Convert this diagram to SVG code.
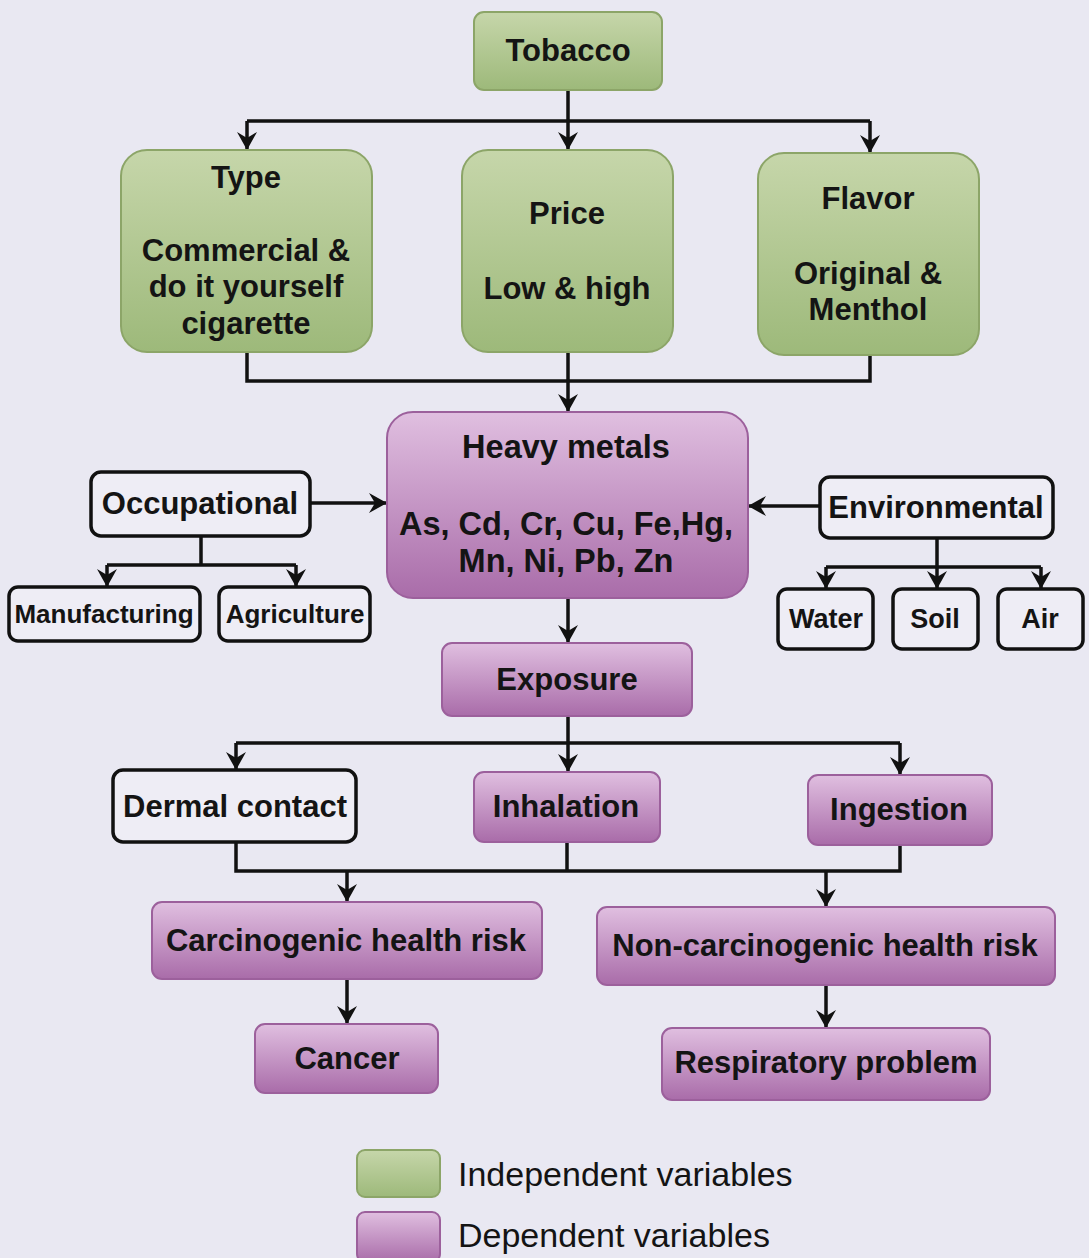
<svg xmlns="http://www.w3.org/2000/svg" width="1089" height="1258" viewBox="0 0 1089 1258">
<defs>
<linearGradient id="gGreen" x1="0" y1="0" x2="0" y2="1">
<stop offset="0" stop-color="#c6d6aa"/>
<stop offset="1" stop-color="#9db97a"/>
</linearGradient>
<linearGradient id="gPurple" x1="0" y1="0" x2="0" y2="1">
<stop offset="0" stop-color="#e0bfe0"/>
<stop offset="1" stop-color="#a96ca9"/>
</linearGradient>
<marker id="arr" viewBox="0 0 18 20" refX="18" refY="10" markerWidth="18" markerHeight="20" markerUnits="userSpaceOnUse" orient="auto">
<path d="M0,0 L18,10 L0,20 L6,10 z" fill="#111"/>
</marker>
</defs>
<style>
.green{fill:url(#gGreen);stroke:#8ca568;stroke-width:2}
.purple{fill:url(#gPurple);stroke:#9c609c;stroke-width:2}
.plain{fill:#eeedf5;stroke:#111;stroke-width:3.5}
.t{font-family:"Liberation Sans",Arial,sans-serif;font-weight:bold;fill:#141414;text-anchor:middle}
.s31{font-size:31px}
.s32{font-size:32.5px}
.s26{font-size:26px}
.s27{font-size:27px}
.leg{font-family:"Liberation Sans",Arial,sans-serif;font-size:34px;fill:#141414}
.c{fill:none;stroke:#111;stroke-width:3.5}
.ca{fill:none;stroke:#111;stroke-width:3.5;marker-end:url(#arr)}
</style>
<rect width="1089" height="1258" fill="#e9e8f2"/>

<g id="connectors">
<path class="c" d="M568,90 V121 M247,121 H870"/>
<path class="ca" d="M247,121 V150"/>
<path class="ca" d="M568,121 V150"/>
<path class="ca" d="M870,121 V153"/>
<path class="c" d="M247,352 V381 H870 V355"/>
<path class="ca" d="M568,352 V412"/>
<path class="ca" d="M310,503 H387"/>
<path class="ca" d="M820,506 H748"/>
<path class="c" d="M201,536 V565 M107,565 H296"/>
<path class="ca" d="M107,565 V587"/>
<path class="ca" d="M296,565 V587"/>
<path class="c" d="M937,538 V567 M826,567 H1041"/>
<path class="ca" d="M826,567 V589"/>
<path class="ca" d="M937,567 V589"/>
<path class="ca" d="M1041,567 V589"/>
<path class="ca" d="M568,598 V643"/>
<path class="c" d="M568,716 V743 M236,743 H900"/>
<path class="ca" d="M236,743 V770"/>
<path class="ca" d="M568,743 V772"/>
<path class="ca" d="M900,743 V775"/>
<path class="c" d="M236,842 V871 H900 V845 M567,842 V871"/>
<path class="ca" d="M347,871 V902"/>
<path class="ca" d="M826,871 V907"/>
<path class="ca" d="M347,979 V1024"/>
<path class="ca" d="M826,985 V1028"/>
</g>

<g id="tobacco">
<rect class="green" x="474" y="12" width="188" height="78" rx="10"/>
<text class="t s31" x="568" y="61">Tobacco</text>
</g>
<g id="type">
<rect class="green" x="121" y="150" width="251" height="202" rx="26"/>
<text class="t s31" x="246" y="188">Type</text>
<text class="t s31" x="246" y="261">Commercial &amp;</text>
<text class="t s31" x="246" y="297">do it yourself</text>
<text class="t s31" x="246" y="334">cigarette</text>
</g>
<g id="price">
<rect class="green" x="462" y="150" width="211" height="202" rx="26"/>
<text class="t s31" x="567" y="224">Price</text>
<text class="t s31" x="567" y="299">Low &amp; high</text>
</g>
<g id="flavor">
<rect class="green" x="758" y="153" width="221" height="202" rx="26"/>
<text class="t s31" x="868" y="209">Flavor</text>
<text class="t s31" x="868" y="284">Original &amp;</text>
<text class="t s31" x="868" y="320">Menthol</text>
</g>
<g id="heavy-metals">
<rect class="purple" x="387" y="412" width="361" height="186" rx="26"/>
<text class="t s32" x="566" y="458">Heavy metals</text>
<text class="t s32" x="566" y="535">As, Cd, Cr, Cu, Fe,Hg,</text>
<text class="t s32" x="566" y="572">Mn, Ni, Pb, Zn</text>
</g>
<g id="occupational">
<rect class="plain" x="91" y="472" width="219" height="64" rx="10"/>
<text class="t s31" x="200" y="514">Occupational</text>
</g>
<g id="manufacturing">
<rect class="plain" x="9" y="587" width="191" height="54" rx="9"/>
<text class="t s26" x="104" y="623">Manufacturing</text>
</g>
<g id="agriculture">
<rect class="plain" x="219" y="587" width="151" height="54" rx="9"/>
<text class="t s26" x="295" y="623">Agriculture</text>
</g>
<g id="environmental">
<rect class="plain" x="820" y="477" width="233" height="61" rx="10"/>
<text class="t s31" x="936" y="518">Environmental</text>
</g>
<g id="water">
<rect class="plain" x="778" y="589" width="95" height="60" rx="9"/>
<text class="t s27" x="826" y="628">Water</text>
</g>
<g id="soil">
<rect class="plain" x="893" y="589" width="85" height="60" rx="9"/>
<text class="t s27" x="935" y="628">Soil</text>
</g>
<g id="air">
<rect class="plain" x="998" y="589" width="85" height="60" rx="9"/>
<text class="t s27" x="1040" y="628">Air</text>
</g>
<g id="exposure">
<rect class="purple" x="442" y="643" width="250" height="73" rx="10"/>
<text class="t s31" x="567" y="690">Exposure</text>
</g>
<g id="dermal-contact">
<rect class="plain" x="113" y="770" width="243" height="72" rx="10"/>
<text class="t s31" x="235" y="817">Dermal contact</text>
</g>
<g id="inhalation">
<rect class="purple" x="474" y="772" width="186" height="70" rx="10"/>
<text class="t s31" x="566" y="817">Inhalation</text>
</g>
<g id="ingestion">
<rect class="purple" x="808" y="775" width="184" height="70" rx="10"/>
<text class="t s31" x="899" y="820">Ingestion</text>
</g>
<g id="carcinogenic">
<rect class="purple" x="152" y="902" width="390" height="77" rx="10"/>
<text class="t s31" x="346" y="951">Carcinogenic health risk</text>
</g>
<g id="non-carcinogenic">
<rect class="purple" x="597" y="907" width="458" height="78" rx="10"/>
<text class="t s31" x="825" y="956">Non-carcinogenic health risk</text>
</g>
<g id="cancer">
<rect class="purple" x="255" y="1024" width="183" height="69" rx="10"/>
<text class="t s31" x="347" y="1069">Cancer</text>
</g>
<g id="respiratory">
<rect class="purple" x="662" y="1028" width="328" height="72" rx="10"/>
<text class="t s31" x="826" y="1073">Respiratory problem</text>
</g>
<g id="legend">
<rect class="green" x="357" y="1150" width="83" height="47" rx="8"/>
<text class="leg" x="458" y="1186">Independent variables</text>
<rect class="purple" x="357" y="1212" width="83" height="50" rx="8"/>
<text class="leg" x="458" y="1247">Dependent variables</text>
</g>
</svg>
